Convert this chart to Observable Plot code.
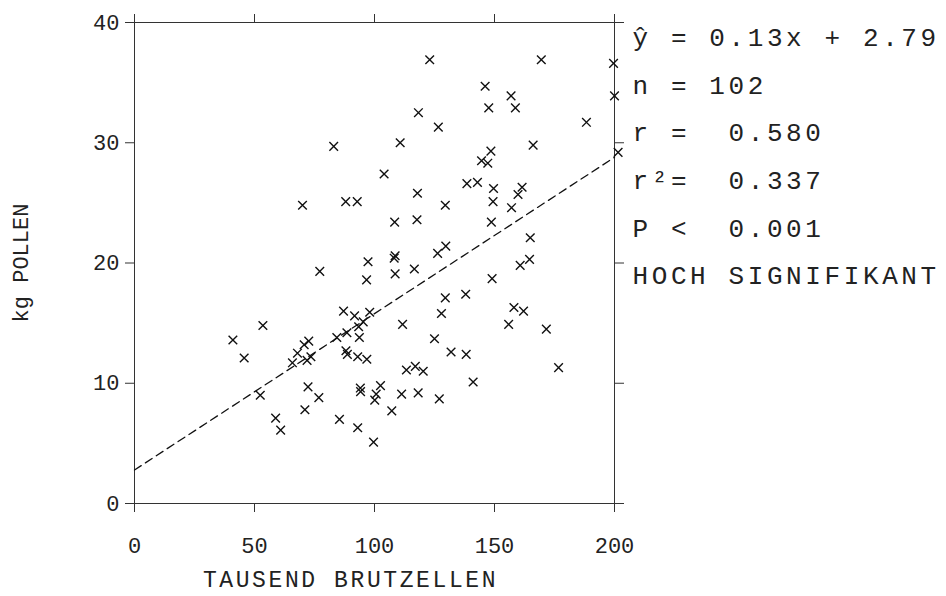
<!DOCTYPE html>
<html>
<head>
<meta charset="utf-8">
<script src="https://cdn.jsdelivr.net/npm/d3@7"></script>
<script src="https://cdn.jsdelivr.net/npm/@observablehq/plot@0.6"></script>
<style>
  html, body { margin: 0; padding: 0; background: #fff; }
  #chart svg { display: block; }
</style>
</head>
<body>
<div id="chart"></div>
<script>
// Thousands of brood cells (x) and kg pollen (y)
const brood = [
  83.0, 70.0, 88.0, 92.8,
  123.0, 169.5, 199.6, 146.1, 156.9, 200.0, 118.3, 147.6, 158.7, 188.3,
  126.6, 110.7, 148.5, 166.1, 201.5, 144.6, 147.2, 104.0, 138.5, 142.9,
  149.6, 159.8, 161.5, 117.9, 129.5, 149.4, 157.1, 108.4, 117.7, 148.7,
  164.9, 108.6, 108.2, 126.3, 129.7,
  97.3, 77.2, 96.7, 87.1, 91.7, 98.0, 95.3, 93.4, 53.5, 41.0,
  84.3, 88.5, 93.7, 72.6, 70.7, 45.7, 67.9, 65.8, 73.5, 71.9,
  88.1, 88.7, 93.0, 96.8, 52.4, 72.3, 76.8, 71.0, 58.8, 60.9,
  85.4, 93.0, 99.6, 94.1, 94.2, 102.5, 100.7, 100.1,
  108.6, 116.6, 160.7, 164.6, 149.0, 129.5, 138.0, 158.1, 162.1, 127.9,
  155.9, 171.6, 111.7, 125.0, 131.9, 138.2, 176.7, 113.3, 117.0, 120.3,
  141.1, 111.3, 118.2, 127.0, 107.2
];
const pollen = [
  29.7, 24.8, 25.1, 25.1,
  36.9, 36.9, 36.6, 34.7, 33.9, 33.9, 32.5, 32.9, 32.9, 31.7,
  31.3, 30.0, 29.3, 29.8, 29.2, 28.5, 28.3, 27.4, 26.6, 26.7,
  26.2, 25.7, 26.3, 25.8, 24.8, 25.1, 24.6, 23.4, 23.6, 23.4,
  22.1, 20.6, 20.4, 20.8, 21.4,
  20.1, 19.3, 18.6, 16.0, 15.6, 15.9, 15.1, 14.7, 14.8, 13.6,
  13.8, 14.2, 13.8, 13.5, 13.2, 12.1, 12.5, 11.7, 12.2, 11.9,
  12.7, 12.4, 12.2, 12.0, 9.0, 9.7, 8.8, 7.8, 7.1, 6.1,
  7.0, 6.3, 5.1, 9.6, 9.3, 9.8, 9.1, 8.6,
  19.1, 19.5, 19.8, 20.3, 18.7, 17.1, 17.4, 16.3, 16.0, 15.8,
  14.9, 14.5, 14.9, 13.7, 12.6, 12.4, 11.3, 11.1, 11.4, 11.0,
  10.1, 9.1, 9.2, 8.7, 7.7
];
const xTicks = [0, 50, 100, 150, 200];
const yTicks = [0, 10, 20, 30, 40];
const xLabel = "TAUSEND BRUTZELLEN";
const yLabel = "kg POLLEN";
const slope = 0.13;
const intercept = 2.79;
const statsLines = ["ŷ = 0.13x + 2.79", "n = 102", "r =  0.580", "r²=  0.337", "P <  0.001", "HOCH SIGNIFIKANT"];

const points = brood.map((x, i) => ({x, y: pollen[i]}));
const xDomain = [xTicks[0], xTicks[xTicks.length - 1]];
const fitLine = xDomain.map(x => ({x, y: intercept + slope * x}));

const font = "Liberation Mono, DejaVu Sans Mono, monospace";
const ink = "#222";

const chart = Plot.plot({
  width: 946,
  height: 596,
  marginLeft: 134,
  marginRight: 332,
  marginTop: 22,
  marginBottom: 93,
  style: {fontFamily: font, color: ink, background: "#fff", overflow: "visible"},
  x: {domain: xDomain},
  y: {domain: [yTicks[0], yTicks[yTicks.length - 1]]},
  marks: [
    Plot.frame({stroke: "#333", strokeWidth: 1}),
    Plot.axisX({anchor: "bottom", ticks: xTicks, tickSize: 9, tickPadding: 25, label: null, fontSize: 22, stroke: "#333"}),
    Plot.axisX({anchor: "top", ticks: xTicks, tickSize: 9, tickFormat: () => "", label: null, stroke: "#333"}),
    Plot.axisY({anchor: "left", ticks: yTicks, tickSize: 9, tickPadding: 6, label: null, fontSize: 22, stroke: "#333"}),
    Plot.axisY({anchor: "right", ticks: yTicks, tickSize: 9, tickFormat: () => "", label: null, stroke: "#333"}),
    Plot.line(fitLine, {x: "x", y: "y", stroke: "#111", strokeWidth: 1.3, strokeDasharray: "8,5"}),
    Plot.dot(points, {x: "x", y: "y", symbol: "times", r: 4, stroke: "#111", strokeWidth: 1.4}),
    Plot.text([xLabel], {frameAnchor: "bottom", dx: -24, dy: 76, textAnchor: "middle", lineAnchor: "middle", fontSize: 23, fill: ink}),
    Plot.text([yLabel], {frameAnchor: "left", dx: -114, rotate: -90, textAnchor: "middle", lineAnchor: "middle", fontSize: 22, fill: ink}),
    Plot.text([statsLines.join("\n")], {frameAnchor: "top-right", textAnchor: "start", lineAnchor: "top", dx: 18, dy: -10, lineHeight: 1.83, fontSize: 26, fill: ink})
  ]
});
const svgSel = d3.select(chart);
svgSel.selectAll("text")
  .filter(function () { return this.textContent.includes("SIGNIFIKANT"); })
  .attr("letter-spacing", "3.6")
  .style("letter-spacing", "3.6px");
svgSel.selectAll("text")
  .filter(function () { return this.textContent === xLabel; })
  .attr("letter-spacing", "2.6")
  .style("letter-spacing", "2.6px");
document.getElementById("chart").appendChild(chart);
</script>
</body>
</html>
